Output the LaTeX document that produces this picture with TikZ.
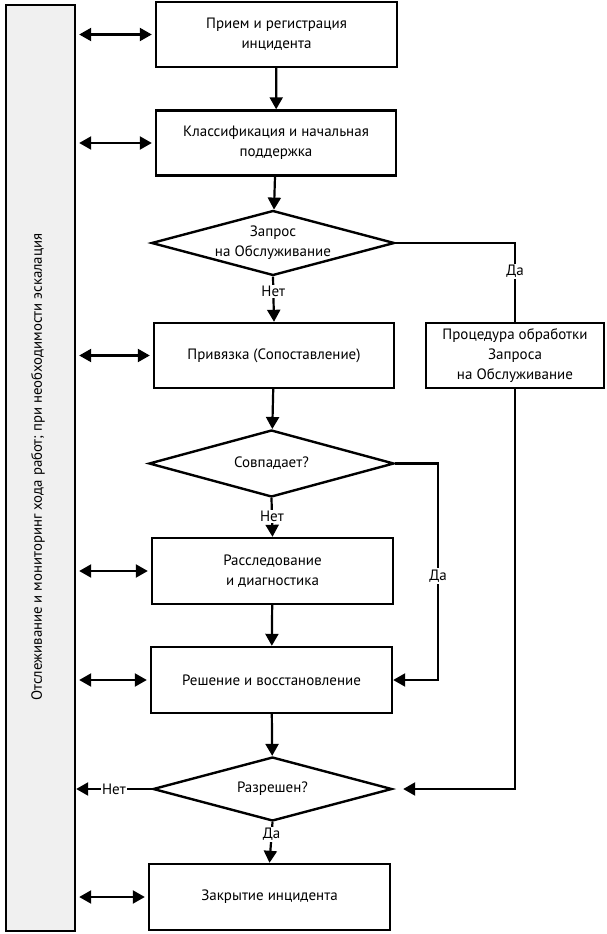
\documentclass[tikz,border=0pt]{standalone}
\usepackage{fontspec}
\setmainfont{PT Sans}
\usetikzlibrary{shapes.geometric,arrows.meta}
\newcommand{\zb}[1]{\makebox[0pt]{#1}}
\begin{document}
\begin{tikzpicture}[x=1pt,y=-1pt,
  box/.style={draw,line width=2.4pt,minimum width=240pt,minimum height=65pt,align=center,inner sep=2pt,fill=white},
  dec/.style={draw,line width=2.4pt,shape=diamond,aspect=3.7,inner sep=0pt,align=center,fill=white},
  flow/.style={line width=2.2pt,-{Triangle[length=12pt,width=13pt]}},
  both/.style={line width=2.2pt,{Triangle[length=12pt,width=13pt]}-{Triangle[length=12pt,width=13pt]},shorten <=3pt,shorten >=3pt},
  plain/.style={line width=2.2pt},
  lbl/.style={fill=white,inner sep=1.5pt},
  font=\fontsize{15}{20}\selectfont]
\useasboundingbox (0,0) rectangle (606,934);
\fill[white] (0,0) rectangle (606,934);
\node[draw,line width=2.4pt,fill=gray!12,minimum width=69pt,minimum height=926pt,inner sep=0pt] (track) at (40.5,468) {};
\node[rotate=90,font=\fontsize{14.8}{20}\selectfont] (tracktext) at (38,467) {Отслеживание и мониторинг хода работ; при необходимости эскалация};

\node[box,minimum width=241pt] (b1) at (276.5,34.5) {Прием и регистрация\\инцидента};
\node[box] (b2) at (276,143) {Классификация и начальная\\поддержка};
\node[dec,minimum width=243pt,minimum height=65pt] (d1) at (273,243) {\zb{Запрос}\\\zb{на Обслуживание}};
\node[box] (b3) at (274,355.5) {Привязка (Сопоставление)};
\node[box,minimum width=178pt] (proc) at (515,355.5) {Процедура обработки\\Запроса\\на Обслуживание};
\node[dec,minimum width=245pt,minimum height=67pt] (d2) at (271.5,463.5) {\zb{Совпадает?}};
\node[box,minimum width=241pt,minimum height=66pt] (b4) at (272.5,571) {Расследование\\и диагностика};
\node[box,minimum width=241pt,minimum height=66pt] (b5) at (271.5,680) {Решение и восстановление};
\node[dec,minimum width=239pt,minimum height=64pt] (d3) at (272.5,789) {\zb{Разрешен?}};
\node[box,minimum width=241pt,minimum height=66pt] (b6) at (269.5,897) {Закрытие инцидента};

\coordinate (c2) at (438,463.5);

\draw[flow] (b1) -- (b2);
\draw[flow] (b2) -- (d1);
\draw[flow] (d1.south) -- (b3.north) node[lbl,pos=0.33] {Нет};
\draw[plain] (d1.east) -| (proc.north) node[lbl,pos=0.68] {Да};
\draw[flow] (b3) -- (d2);
\draw[flow] (d2.south) -- (b4.north) node[lbl,pos=0.47] {Нет};
\draw[flow] (d2.east) -- (c2) |- node[lbl,pos=0.26] {Да} (b5.east);
\draw[flow] (b4) -- (b5);
\draw[flow] (b5) -- (d3);
\draw[flow,shorten >=10pt] (proc.south) |- (d3.east);
\draw[flow] (d3.south) -- (b6.north) node[lbl,pos=0.3] {Да};
\draw[flow] (d3.west) -- (track.east |- d3.west) node[lbl,pos=0.5] {Нет};

\foreach \n in {b1,b2,b3,b4,b5,b6}
  \draw[both] (track.east |- \n.west) -- (\n.west);
\end{tikzpicture}
\end{document}
